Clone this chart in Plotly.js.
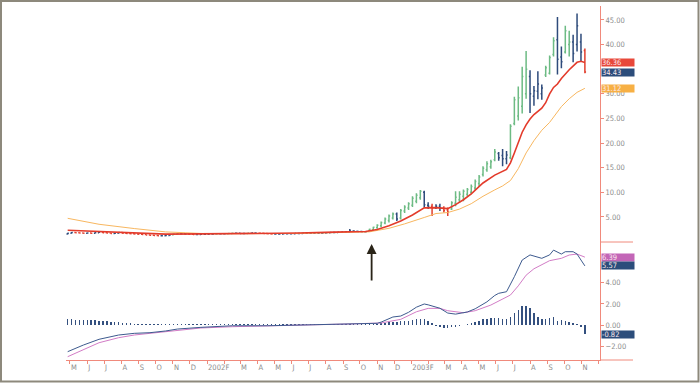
<!DOCTYPE html>
<html><head><meta charset="utf-8">
<script src="https://cdn.plot.ly/plotly-3.0.1.min.js"></script>
<style>html,body{margin:0;padding:0;background:#fff}#chart{width:700px;height:383px}</style>
</head><body><div id="chart"></div>
<script>
// ---- data (weekly bars, Apr 2001 - Nov 2003) ----
const firstWeek = '2001-04-27';
const weekCount = 133;

const opens = [
 1.55,1.70,1.85,1.80,1.75,1.70,1.75,1.72,1.80,1.95,
 1.80,1.75,1.65,1.70,1.85,1.70,1.65,1.60,1.55,1.50,
 1.45,1.35,1.30,1.22,1.18,1.20,1.25,1.35,1.50,1.60,
 1.62,1.55,1.50,1.45,1.45,1.50,1.48,1.52,1.55,1.60,
 1.58,1.62,1.65,1.70,1.68,1.65,1.66,1.72,1.75,1.72,
 1.70,1.65,1.60,1.55,1.55,1.56,1.60,1.58,1.60,1.63,
 1.66,1.68,1.70,1.70,1.73,1.70,1.76,1.80,1.84,1.85,
 1.90,1.95,2.00,2.15,2.08,2.05,2.02,2.15,2.40,2.80,
 3.20,3.80,4.30,4.80,5.60,4.80,6.20,6.80,7.40,8.20,
 8.90,10.0,7.40,7.20,6.80,7.20,6.80,6.40,6.60,7.80,
 8.50,9.20,9.60,10.0,10.9,11.8,13.6,14.6,15.2,16.6,
 17.9,17.5,16.8,17.0,24.0,25.5,27.5,30.0,33.5,29.5,
 30.5,30.0,33.8,34.2,38.0,41.0,37.5,38.5,40.0,40.5,
 40.0,40.5,38.8];
const highs = [
 1.80,1.95,1.92,1.88,1.85,1.85,1.82,1.90,2.05,1.98,
 1.88,1.80,1.80,1.95,1.88,1.75,1.72,1.68,1.62,1.58,
 1.50,1.42,1.35,1.28,1.30,1.35,1.45,1.60,1.70,1.72,
 1.68,1.60,1.55,1.55,1.58,1.56,1.60,1.62,1.68,1.66,
 1.70,1.72,1.80,1.76,1.72,1.74,1.82,1.84,1.80,1.78,
 1.74,1.70,1.64,1.62,1.64,1.68,1.66,1.68,1.70,1.74,
 1.76,1.78,1.78,1.82,1.78,1.84,1.88,1.92,1.94,1.98,
 2.04,2.10,2.55,2.30,2.20,2.18,2.15,2.60,3.00,3.50,
 4.10,4.90,5.50,5.90,5.90,6.60,7.40,8.00,9.20,9.80,
 10.5,10.3,8.00,7.70,7.60,7.70,7.20,6.90,8.20,10.2,
 10.2,10.6,10.9,11.6,12.6,13.5,15.3,16.3,16.6,18.8,
 18.2,18.8,18.4,23.8,29.4,31.5,35.5,38.7,34.8,31.6,
 34.6,31.9,35.7,37.8,41.5,45.6,39.6,43.8,42.8,42.0,
 46.3,42.2,39.2];
const lows = [
 1.45,1.65,1.70,1.65,1.62,1.65,1.62,1.68,1.75,1.72,
 1.65,1.58,1.60,1.65,1.62,1.55,1.52,1.48,1.42,1.36,
 1.28,1.22,1.12,1.08,1.10,1.15,1.22,1.32,1.45,1.52,
 1.48,1.42,1.38,1.38,1.40,1.40,1.44,1.46,1.50,1.50,
 1.54,1.56,1.60,1.60,1.58,1.58,1.62,1.66,1.64,1.62,
 1.58,1.52,1.48,1.48,1.48,1.50,1.52,1.52,1.55,1.58,
 1.60,1.62,1.62,1.65,1.62,1.66,1.70,1.74,1.76,1.80,
 1.84,1.88,1.95,2.00,1.95,1.92,1.90,2.10,2.30,2.60,
 2.90,3.50,3.90,4.50,4.20,4.50,5.80,6.40,7.00,7.80,
 8.50,6.90,6.60,5.20,6.60,6.20,5.90,5.20,6.40,7.20,
 7.90,8.20,9.20,9.60,10.5,11.2,13.2,14.2,14.8,16.3,
 16.4,15.3,15.7,16.7,23.6,24.6,26.0,29.0,26.1,27.6,
 28.9,28.8,33.4,33.9,37.6,33.9,35.2,38.2,37.6,36.4,
 38.6,36.6,34.2];
const closes = [
 1.70,1.85,1.80,1.75,1.70,1.75,1.72,1.80,1.95,1.80,
 1.75,1.65,1.70,1.85,1.70,1.65,1.60,1.55,1.50,1.45,
 1.35,1.30,1.22,1.18,1.20,1.25,1.35,1.50,1.60,1.62,
 1.55,1.50,1.45,1.45,1.50,1.48,1.52,1.55,1.60,1.58,
 1.62,1.65,1.70,1.68,1.65,1.66,1.72,1.75,1.72,1.70,
 1.65,1.60,1.55,1.55,1.56,1.60,1.58,1.60,1.63,1.66,
 1.68,1.70,1.70,1.73,1.70,1.76,1.80,1.84,1.85,1.90,
 1.95,2.00,2.15,2.08,2.05,2.02,2.00,2.50,2.90,3.30,
 3.90,4.60,5.20,5.60,4.60,6.30,7.00,7.70,8.80,9.40,
 10.2,7.50,7.20,6.80,7.20,6.80,6.30,6.00,7.90,9.00,
 9.60,10.2,10.6,11.2,12.2,13.1,14.9,15.8,16.2,18.2,
 17.0,16.8,17.6,23.4,28.8,29.2,33.5,35.0,30.0,30.6,
 32.0,31.2,35.3,37.4,40.8,37.0,36.5,42.8,40.5,38.2,
 43.8,38.5,34.43];
// impulse colour class of each weekly bar: g = green, b = blue, r = red
const impulse =
 'bbrrrbrbbr'+'rrbbrrrrrr'+'rrrrbbbggb'+'brrbbbbbgb'+'bggbbbgbbr'+
 'rrrbbbbbbb'+'bbbbbbbbbb'+'bbbbbbbggg'+'ggggbggggg'+'gbbrbbrrgg'+
 'gggggggggg'+'bbbgggggbb'+'bbgggbbggb'+'bbr';

// moving averages (week index -> value)
const redWeek = [0,8,17,25,34,42,51,59,68,72,76,79,82,85,88,91,94,97,99,101,103,106,109,112,113,114,115,116,117,118,119,121,122,123,124,125,126,128,130,131,132];
const redVal  = [2.30,2.04,1.84,1.52,1.56,1.58,1.62,1.74,1.92,2.00,2.06,2.45,3.20,4.20,5.40,6.85,6.90,6.70,7.50,8.50,9.70,11.9,13.5,14.65,16.0,18.0,20.2,22.2,23.7,24.9,25.8,27.1,28.2,30.0,31.3,32.0,33.1,34.9,36.4,36.6,36.36];
const orangeWeek = [0,8,17,25,30,34,42,51,59,68,72,77,82,86,91,94,97,100,103,106,109,111,113,115,117,119,121,123,126,128,130,132];
const orangeVal  = [4.73,3.52,2.65,1.97,1.80,1.66,1.60,1.58,1.66,1.82,1.90,1.98,2.70,3.60,4.90,5.70,5.90,6.60,7.70,9.20,10.5,11.3,12.4,14.8,18.0,20.5,22.6,24.2,27.4,29.0,30.3,31.12];

// MACD panel
const macdWeek = [0,4,8,13,17,21,25,28,34,42,51,59,68,72,79,80,83,85,87,89,91,92,95,97,99,102,104,107,109,110,112,114,116,118,120,121,123,124,126,127,129,130,131,132];
const macdVal  = [-2.47,-1.85,-1.31,-0.91,-0.75,-0.69,-0.53,-0.35,-0.19,-0.04,-0.04,0.03,0.12,0.17,0.19,0.30,0.78,0.87,1.22,1.70,2.00,1.92,1.60,1.15,1.05,1.25,1.55,2.20,2.80,3.00,3.15,4.56,6.12,6.60,6.40,6.28,6.60,7.05,6.68,6.90,6.90,6.68,6.12,5.57];
const signalWeek = [0,4,8,13,17,21,25,30,34,42,51,59,68,72,80,85,89,92,95,97,101,104,108,111,113,115,117,119,121,123,126,128,130,131,132];
const signalVal  = [-2.94,-2.25,-1.63,-1.16,-0.91,-0.75,-0.60,-0.37,-0.25,-0.13,-0.07,0.00,0.09,0.13,0.22,0.56,1.27,1.59,1.59,1.37,1.18,1.37,1.90,2.45,2.84,3.70,4.70,5.30,5.65,6.06,6.28,6.59,6.68,6.50,6.39];
const histVal = [
 0.55,0.55,0.54,0.53,0.52,0.50,0.48,0.46,0.44,0.40,
 0.37,0.34,0.30,0.27,0.24,0.21,0.18,0.15,0.13,0.12,
 0.11,0.11,0.10,0.10,0.10,0.11,0.12,0.12,0.12,0.11,
 0.10,0.10,0.10,0.10,0.10,0.10,0.10,0.10,0.10,0.10,
 0.10,0.10,0.10,0.10,0.10,0.10,0.10,0.10,0.10,0.10,
 0.10,0.10,0.10,0.10,0.10,0.10,0.10,0.10,0.10,0.10,
 0.10,0.10,0.10,0.10,0.10,0.10,0.10,0.10,0.10,0.10,
 0.10,0.10,0.12,0.12,0.12,0.12,0.13,0.13,0.14,0.16,
 0.20,0.25,0.30,0.32,0.34,0.38,0.40,0.43,0.50,0.58,
 0.64,0.62,0.45,0.20,-0.07,-0.19,-0.28,-0.25,-0.20,-0.13,
 -0.06,0.04,0.10,0.18,0.34,0.43,0.56,0.62,0.68,0.72,
 0.65,0.56,0.60,0.81,1.12,1.43,1.81,1.84,1.59,1.12,
 0.81,0.56,0.62,0.70,0.81,0.43,0.50,0.37,0.28,0.20,
 0.10,-0.19,-0.82];

// axis labels
const monthTicks = ['2001-05-01','2001-06-01','2001-07-01','2001-08-01','2001-09-01','2001-10-01','2001-11-01','2001-12-01',
 '2002-01-01','2002-02-01','2002-03-01','2002-04-01','2002-05-01','2002-06-01','2002-07-01','2002-08-01','2002-09-01','2002-10-01','2002-11-01','2002-12-01',
 '2003-01-01','2003-02-01','2003-03-01','2003-04-01','2003-05-01','2003-06-01','2003-07-01','2003-08-01','2003-09-01','2003-10-01','2003-11-01','2003-12-01'];
const monthLabels = ['M','J','J','A','S','O','N','D','2002','F','M','A','M','J','J','A','S','O','N','D','2003','F','M','A','M','J','J','A','S','O','N',''];
const priceTicks = [5,10,15,20,25,30,40,45];
const macdTicks = [-2,0,2,4];

// ---- build ----
const DAY = 864e5;
const t0 = Date.parse(firstWeek + 'T00:00:00Z');
const dates = [];
for (let i = 0; i < weekCount; i++) dates.push(new Date(t0 + i * 7 * DAY).toISOString().slice(0, 10));
const at = w => w.map(i => dates[i]);

const C = {g:'#6dbb84', b:'#2e4b7b', r:'#e2402f'};
const AX = '#f08a7c';
const FONT = '"Liberation Sans Narrow","Arial Narrow","DejaVu Sans Condensed",sans-serif';

const traces = [];
traces.push({type:'scatter', mode:'lines', x:at(orangeWeek), y:orangeVal, line:{color:'#f8b760', width:1}, hoverinfo:'skip'});
traces.push({type:'scatter', mode:'lines', x:at(redWeek), y:redVal, line:{color:'#e33b2b', width:1.6}, hoverinfo:'skip'});
['g','b','r'].forEach(k => {
  const pick = arr => arr.map((v, i) => impulse[i] === k ? v : null);
  traces.push({type:'ohlc', x:dates, open:pick(opens), high:pick(highs), low:pick(lows), close:pick(closes),
    increasing:{line:{color:C[k], width:1.5}}, decreasing:{line:{color:C[k], width:1.5}},
    tickwidth:0.3, hoverinfo:'skip', xaxis:'x', yaxis:'y'});
});
traces.push({type:'bar', x:dates, y:histVal, width:2.6*DAY, marker:{color:'#34507f', line:{width:0}}, yaxis:'y2', hoverinfo:'skip'});
traces.push({type:'scatter', mode:'lines', x:at(signalWeek), y:signalVal, line:{color:'#d27cc6', width:1}, yaxis:'y2', hoverinfo:'skip'});
traces.push({type:'scatter', mode:'lines', x:at(macdWeek), y:macdVal, line:{color:'#3d5a8e', width:1}, yaxis:'y2', hoverinfo:'skip'});

const L = 66, R = 100, T = 6, B = 23, W = 700, H = 383;
const pw = W - L - R, ph = H - T - B;
const px = v => (v - L) / pw;
const py = v => (H - B - v) / ph;
const split = py(242);

function box(text, y, yref, color) {
  return {xref:'paper', x:px(601), xanchor:'left', yref:yref, y:y, yanchor:'middle', text:text, showarrow:false,
    bgcolor:color, width:32, height:7, align:'left', borderpad:0, font:{family:FONT, size:7.5, color:'#fbe9ec'}};
}

const layout = {
  width:W, height:H, margin:{l:L, r:R, t:T, b:B}, paper_bgcolor:'#fff', plot_bgcolor:'#fff', showlegend:false,
  font:{family:FONT, size:7.5, color:'#8c8c8c'}, bargap:0,
  xaxis:{type:'date', range:['2001-04-24','2003-12-04'], anchor:'y2', rangeslider:{visible:false},
    tickmode:'array', tickvals:monthTicks, ticktext:monthLabels, ticks:'outside', ticklen:3, tickcolor:AX,
    showline:true, linecolor:AX, linewidth:1, showgrid:false, zeroline:false, ticklabelposition:'outside right',
    tickangle:0, tickfont:{family:FONT, size:7.5, color:'#8c8c8c'}},
  yaxis:{domain:[split, 1], range:[-0.08, 47.83], side:'right', anchor:'x', showline:true, linecolor:AX, linewidth:1,
    ticks:'outside', ticklen:3, tickcolor:AX, tickmode:'array', tickvals:priceTicks, tickformat:'.2f',
    showgrid:false, zeroline:false, tickfont:{family:FONT, size:7.5, color:'#8c8c8c'}},
  yaxis2:{domain:[0, split], range:[-3.25, 7.81], side:'right', anchor:'x', showline:true, linecolor:AX, linewidth:1,
    ticks:'outside', ticklen:3, tickcolor:AX, tickmode:'array', tickvals:macdTicks, tickformat:'.2f',
    showgrid:false, zeroline:false, tickfont:{family:FONT, size:7.5, color:'#8c8c8c'}},
  shapes:[
    {type:'line', xref:'paper', yref:'paper', x0:1, x1:px(633), y0:split, y1:split, line:{color:AX, width:1}},
    {type:'line', xref:'paper', yref:'paper', x0:1, x1:px(633), y0:0, y1:0, line:{color:AX, width:1}},
    {type:'rect', xref:'paper', yref:'paper', x0:px(1), x1:px(698.5), y0:py(381.5), y1:py(1), line:{color:'#8d897c', width:2}}
  ],
  annotations:[
    box('36.36', 36.36, 'y', '#e8483a'),
    box('34.43', 34.43, 'y', '#2c4d7b'),
    box('31.12', 31.12, 'y', '#f7b044'),
    box('6.39', 6.39, 'y2', '#c366b7'),
    box('5.57', 5.57, 'y2', '#2c4d7b'),
    box('-0.82', -0.82, 'y2', '#2c4d7b'),
    {xref:'x', yref:'y2', x:'2002-10-22', y:7.62, ax:0, ay:38, text:'', showarrow:true,
      arrowhead:2, arrowsize:1.1, arrowwidth:1.8, arrowcolor:'#2a2418', standoff:0}
  ]
};

Plotly.newPlot('chart', traces, layout, {staticPlot:true, displayModeBar:false});
</script></body></html>
